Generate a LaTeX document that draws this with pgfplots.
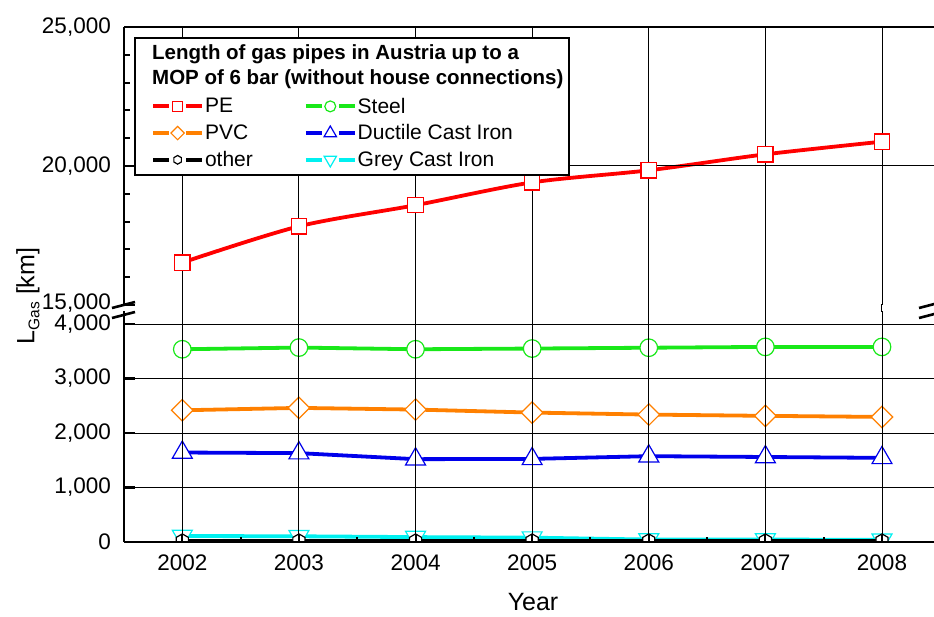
\documentclass[border=0pt]{standalone}
\usepackage{pgfplots}
\pgfplotsset{compat=1.18}
\usepackage{fontspec}
\setmainfont{Liberation Sans}

\definecolor{peRed}{RGB}{255,0,0}
\definecolor{steelGreen}{RGB}{25,232,25}
\definecolor{pvcOrange}{RGB}{255,128,0}
\definecolor{dciBlue}{RGB}{0,0,235}
\definecolor{gciCyan}{RGB}{0,240,240}

\newcommand\ticklab{\fontsize{22.5}{25}\selectfont}
\newcommand\legfont{\fontsize{21}{24}\selectfont}

% pointy-top hexagon marker
\pgfdeclareplotmark{hexmark}{%
  \pgfpathmoveto{\pgfpointpolar{90}{\pgfplotmarksize}}%
  \pgfpathlineto{\pgfpointpolar{150}{\pgfplotmarksize}}%
  \pgfpathlineto{\pgfpointpolar{210}{\pgfplotmarksize}}%
  \pgfpathlineto{\pgfpointpolar{270}{\pgfplotmarksize}}%
  \pgfpathlineto{\pgfpointpolar{330}{\pgfplotmarksize}}%
  \pgfpathlineto{\pgfpointpolar{30}{\pgfplotmarksize}}%
  \pgfpathclose
  \pgfusepathqfillstroke
}

\pgfplotsset{
  series/.style={line width=3.8pt, mark options={solid, line width=1.2pt, fill=white}},
  pe/.style={series, color=peRed, mark=square*, mark size=7.7pt, smooth},
  steel/.style={series, color=steelGreen, mark=*, mark size=8.8pt},
  pvc/.style={series, color=pvcOrange, mark=square*, mark size=7.6pt,
    mark options={solid, line width=1.2pt, fill=white, rotate=45}},
  dci/.style={series, color=dciBlue, mark=triangle*, mark size=11.5pt},
  gci/.style={series, color=gciCyan, mark=triangle*, mark size=11.5pt,
    mark options={solid, line width=1.2pt, fill=white, rotate=180}},
  other/.style={series, color=black, mark=hexmark, mark size=7pt},
  brokenaxis/.style={
    scale only axis, anchor=south west, width=816.3pt,
    xmin=2001.5, xmax=2008.5,
    axis y line*=left,
    axis line style={line width=2.6pt, -},
    axis on top,
    grid=major,
    major grid style={line width=1pt, black},
    tick align=inside,
    major tick length=11pt,
    minor tick length=6pt,
    tick style={line width=2.6pt, black},
    minor tick style={line width=2pt, black},
    scaled y ticks=false,
    tick label style={font=\ticklab},
    yticklabel style={anchor=east, inner sep=0pt, xshift=-13pt},
    /pgf/number format/.cd, 1000 sep={,}, assume math mode=true,
  },
}

\begin{document}
\begin{tikzpicture}[x=1pt, y=1pt]
\useasboundingbox (0,0) rectangle (934,616);

% upper part: 15,000 - 25,000 km
\begin{axis}[brokenaxis,
  at={(124pt,311pt)}, height=278pt,
  ymin=15000, ymax=25000,
  axis x line*=top,
  xtick={2002,2003,2004,2005,2006,2007,2008}, xticklabels={},
  major x tick style={draw=none},
  ytick={20000,25000},
  minor ytick={16000,17000,18000,19000,21000,22000,23000,24000},
  extra y ticks={15000},
  extra y tick style={grid=none, yticklabel style={yshift=1.5pt}},
]
\addplot[pe] coordinates {
  (2002,16525) (2003,17830) (2004,18590) (2005,19410)
  (2006,19845) (2007,20420) (2008,20875)};
\end{axis}

% lower part: 0 - 4,000 km
\begin{axis}[brokenaxis,
  at={(124pt,74pt)}, height=231pt,
  ymin=0, ymax=4239,
  axis x line*=bottom,
  clip marker paths=true,
  xtick={2002,2003,2004,2005,2006,2007,2008},
  xticklabels={2002,2003,2004,2005,2006,2007,2008},
  minor xtick={2002.5,2003.5,2004.5,2005.5,2006.5,2007.5},
  xtick style={/pgfplots/major tick length=7pt, /pgfplots/minor tick length=5pt, line width=2pt},
  xticklabel style={anchor=north, inner sep=0pt, yshift=-13pt},
  ytick={0,1000,2000,3000,4000},
]
\addplot[steel] coordinates {
  (2002,3537) (2003,3568) (2004,3537) (2005,3550)
  (2006,3565) (2007,3580) (2008,3580)};
\addplot[pvc] coordinates {
  (2002,2417) (2003,2461) (2004,2430) (2005,2375)
  (2006,2338) (2007,2315) (2008,2295)};
\addplot[dci] coordinates {
  (2002,1642) (2003,1631) (2004,1520) (2005,1525)
  (2006,1575) (2007,1560) (2008,1544)};
\addplot[gci] coordinates {
  (2002,110) (2003,105) (2004,90) (2005,80)
  (2006,45) (2007,45) (2008,40)};
\addplot[other] coordinates {
  (2002,20) (2003,20) (2004,20) (2005,20)
  (2006,20) (2007,20) (2008,20)};
\end{axis}

% grid lines across the axis break
\foreach \k in {0,...,6}
  \draw[line width=1pt, black] ({182.3+116.614*\k},304) -- ({182.3+116.614*\k},312);

% axis break marks
\foreach \xa in {112,919}{
  \draw[line width=2.6pt] (\xa,308) -- (\xa+23,314);
  \draw[line width=2.6pt] (\xa,298) -- (\xa+23,304);
}

% legend frame and title
\draw[line width=1.5pt, fill=white] (135,441) rectangle (569,578);
\node[anchor=base west, inner sep=0pt, font=\bfseries\fontsize{20.5}{24}\selectfont]
  at (152,556) {Length of gas pipes in Austria up to a};
\node[anchor=base west, inner sep=0pt, font=\bfseries\fontsize{20.5}{24}\selectfont]
  at (152,531) {MOP of 6 bar (without house connections)};

% legend entries
\begin{axis}[
  at={(124pt,311pt)}, anchor=south west, scale only axis,
  width=816.3pt, height=278pt, hide axis,
  xmin=0, xmax=1, ymin=0, ymax=1,
  legend columns=2,
  legend image code/.code={
    \draw[#1, mark=none] (0pt,0pt) -- (16pt,0pt);
    \draw[#1, mark=none] (33pt,0pt) -- (49pt,0pt);
    \draw[#1, every mark/.append style={scale=0.62}] plot coordinates {(24.5pt,0pt)};
  },
  legend style={at={(axis description cs:0.0331,0.7560)}, anchor=north west,
    draw=none, fill=none, inner sep=0pt, font=\legfont,
    row sep=4pt,
    nodes={inner xsep=1pt, inner ysep=3pt, anchor=west},
    /tikz/every even column/.append style={column sep=50pt}},
]
\addlegendimage{pe}\addlegendentry{PE}
\addlegendimage{steel}\addlegendentry{Steel}
\addlegendimage{pvc}\addlegendentry{PVC}
\addlegendimage{dci}\addlegendentry{Ductile Cast Iron}
\addlegendimage{other}\addlegendentry{other}
\addlegendimage{gci}\addlegendentry{Grey Cast Iron}
\end{axis}

% axis titles
\node[rotate=90, anchor=center, inner sep=0pt, font=\fontsize{25}{28}\selectfont]
  at (28,320) {L\raisebox{-5pt}{\fontsize{15.5}{16}\selectfont Gas} [km]};
\node[anchor=center, inner sep=0pt, font=\fontsize{25}{30}\selectfont]
  at (533,14) {Year};
\end{tikzpicture}
\end{document}
